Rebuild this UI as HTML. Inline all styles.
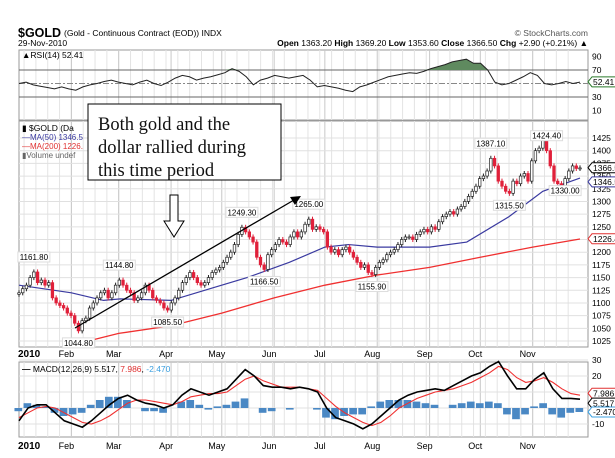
<!DOCTYPE html>
<html><head><meta charset="utf-8">
<style>
body{margin:0;background:#fff;width:615px;height:453px;overflow:hidden;font-family:"Liberation Sans",sans-serif}
svg text{font-family:"Liberation Sans",sans-serif}
</style></head>
<body>
<svg id="c" width="615" height="453" xmlns="http://www.w3.org/2000/svg">
<rect width="615" height="453" fill="#fff"/>
<text x="18" y="37" font-size="12.5" font-weight="bold">$GOLD</text>
<text x="64" y="36" font-size="8.5">(Gold - Continuous Contract (EOD)) INDX</text>
<text x="588" y="36" font-size="8.5" fill="#555" text-anchor="end">© StockCharts.com</text>
<text x="18" y="46" font-size="8.5">29-Nov-2010</text>
<text x="588" y="46" font-size="8.5" text-anchor="end"><tspan font-weight="bold">Open</tspan> 1363.20 <tspan font-weight="bold">High</tspan> 1369.20 <tspan font-weight="bold">Low</tspan> 1353.60 <tspan font-weight="bold">Close</tspan> 1366.50 <tspan font-weight="bold">Chg</tspan> +2.90 (+0.21%) ▲</text>
<g id="rsi"></g>
<g id="price"></g>
<g id="macd"></g>
<g>
<rect x="88" y="104" width="193" height="76" fill="#fff" stroke="#000" stroke-width="1"/>
<text x="98" y="130" font-size="18.5" fill="#111" style="font-family:'Liberation Serif',serif"><tspan x="98">Both gold and the</tspan><tspan x="98" dy="23">dollar rallied during</tspan><tspan x="98" dy="23">this time period</tspan></text>
<path d="M170,195 L178,195 L178,221 L184,221 L174,237 L164,221 L170,221 Z" fill="#fff" stroke="#000"/>
<line x1="75" y1="328" x2="294" y2="200" stroke="#000" stroke-width="1.3"/>
<path d="M301,196 L290,197 L295,205 Z" fill="#000"/>
</g>
</svg>
<script>
const closes=[1120,1128,1135,1150,1161,1140,1145,1135,1140,1110,1100,1095,1090,1080,1075,1060,1045,1065,1070,1090,1100,1110,1120,1125,1110,1120,1135,1145,1135,1125,1120,1105,1110,1120,1135,1125,1110,1105,1100,1090,1086,1100,1110,1125,1140,1150,1160,1150,1140,1135,1140,1150,1160,1165,1170,1180,1190,1200,1215,1235,1249,1240,1230,1220,1190,1175,1166,1195,1205,1215,1225,1220,1215,1230,1240,1230,1240,1255,1265,1245,1250,1245,1240,1210,1200,1205,1195,1205,1210,1200,1190,1180,1170,1175,1160,1156,1170,1180,1185,1195,1200,1205,1215,1225,1230,1230,1225,1235,1240,1245,1240,1250,1245,1260,1270,1275,1280,1275,1285,1290,1300,1310,1320,1330,1345,1350,1360,1385,1370,1340,1330,1320,1316,1340,1335,1350,1355,1340,1380,1400,1405,1424,1400,1370,1340,1335,1330,1345,1360,1370,1365,1366];
const ma50Days=[0,31,50,60,90,115,135,160,181,195,212,243,265,290,310,332];
const ma50Vals=[1135,1120,1105,1108,1105,1130,1150,1180,1210,1215,1210,1210,1220,1270,1320,1346];
const ma200Days=[35,59,90,120,151,181,212,243,273,304,332];
const ma200Vals=[1020,1040,1055,1080,1110,1135,1155,1170,1190,1210,1226];
const rsiVals=[50,52,48,46,44,42,45,42,40,45,48,50,53,55,52,50,48,52,55,50,47,52,58,62,60,55,58,60,63,66,72,68,60,48,55,58,62,60,58,60,62,55,45,47,45,43,40,38,45,48,52,56,60,62,64,66,65,68,72,75,78,82,84,86,80,80,70,52,48,50,55,60,66,62,50,48,50,53,50,52];
const macdVals=[-8,0,2,2,-3,-8,-10,-12,-8,-3,2,6,8,5,3,2,0,2,8,12,10,8,10,12,18,24,20,14,13,13,12,13,12,10,0,-6,-8,-10,-13,-10,-5,0,5,8,10,11,12,11,14,17,20,22,26,29,20,12,12,18,22,12,6,6,5.5];
const sigVals=[-6,-3,0,1,0,-3,-6,-9,-10,-8,-5,-1,3,5,5,4,3,2,4,7,8,9,9,10,14,18,20,17,15,13,13,13,12,11,6,1,-3,-6,-9,-11,-9,-5,0,3,6,8,10,11,12,14,16,19,22,26,24,19,16,17,19,16,12,9,8];
const histVals=[-2,3,2,1,-3,-5,-4,-3,2,5,7,7,5,0,-2,-2,-3,0,4,5,2,-1,1,2,4,6,0,-3,-2,0,-1,0,0,-1,-6,-7,-5,-4,-4,1,4,5,5,5,4,3,2,0,2,3,4,3,4,3,-4,-7,-4,1,3,-4,-6,-3,-2.5];
const priceTicks=[1425,1400,1375,1350,1325,1300,1275,1250,1225,1200,1175,1150,1125,1100,1075,1050,1025];
const rsiTicks=[90,70,30,10];
const macdTicks=[30,20,10,0,-10];
const monthNames=['Feb','Mar','Apr','May','Jun','Jul','Aug','Sep','Oct','Nov'];
const monthDays=[31,59,90,120,151,181,212,243,273,304];
const peakLabels=[['1161.80',4,-1],['1144.80',27,-1],['1085.50',40,1],['1044.80',16,1],['1249.30',60,-1],['1166.50',66,1],['1265.00',78,-1],['1155.90',95,1],['1387.10',127,-1],['1315.50',132,1],['1424.40',142,-1],['1330.00',147,1]];

const NS='http://www.w3.org/2000/svg';
const L=19,R=580,PR=588;
const xDay=d=>L+d*(R-L)/332;
const xIdx=(i,n)=>L+i*(R-L)/(n-1);
const yP=p=>138+(1425-p)*0.5075;
const yR=v=>70+(70-v)*0.675;
const yM=v=>408-v*1.6;
function mk(parent,tag,attrs){const e=document.createElementNS(NS,tag);for(const k in attrs)e.setAttribute(k,attrs[k]);document.getElementById(parent).appendChild(e);return e;}
function txt(parent,x,y,s,attrs){const e=mk(parent,'text',Object.assign({x:x,y:y,'font-size':9},attrs||{}));e.textContent=s;return e;}
function panel(id,top,bot){
  const r=mk(id,'rect',{x:L,y:top,width:PR-L,height:bot-top,fill:'#fff',stroke:'#999'});
  
  
  for(let d=3;d<332;d+=7){const l=mk(id,'line',{x1:xDay(d),x2:xDay(d),y1:top,y2:bot,stroke:'#e4e4e4'});
    
    }
  monthDays.forEach(d=>{const l=mk(id,'line',{x1:xDay(d),x2:xDay(d),y1:top,y2:bot,stroke:'#c8c8c8'});
    
    });
}
function poly(id,pts,color,w,name){const e=mk(id,'polyline',{points:pts.map(p=>p.join(',')).join(' '),fill:'none',stroke:color,'stroke-width':w});
  
  return e;}
function tag(id,y,s,color){const w=s.length*5+6;const p=mk(id,'path',{d:`M${PR} ${y} l4 -5 h${w} v10 h-${w} z`,fill:'#fff',stroke:color});
  
  
  const t=txt(id,PR+5,y+3.2,s,{'font-size':8.5,fill:'#000'});
  
  }

// RSI
panel('rsi',50,120);
[70,30].forEach(v=>{const l=mk('rsi','line',{x1:L,x2:PR,y1:yR(v),y2:yR(v),stroke:'#666'});
  
  });
{const l=mk('rsi','line',{x1:L,x2:PR,y1:yR(50),y2:yR(50),stroke:'#888','stroke-dasharray':'6,2,2,2'});
  
  }
rsiTicks.forEach(v=>{const t=txt('rsi',592,yR(v)+3,String(v),{'font-size':8.5});
  
  });
const rsiPts=rsiVals.map((v,i)=>[xIdx(i,rsiVals.length),yR(v)]);
{let d='';rsiPts.forEach((p,i)=>{const v=rsiVals[i];d+=(i?'L':'M')+p[0]+','+yR(Math.max(v,70));});
 d+='L'+rsiPts[rsiPts.length-1][0]+','+yR(70)+'L'+rsiPts[0][0]+','+yR(70)+'Z';
 const f=mk('rsi','path',{d:d,fill:'#5f8a5f'});
 
 }
poly('rsi',rsiPts,'#222',1,'rsi-line');
{const t=txt('rsi',22,58,'▲RSI(14) 52.41',{'font-size':8.5,'font-family':'Liberation Mono'});
 
 }
tag('rsi',yR(52.41),'52.41','#2a7a2a');

// Price
panel('price',121,347);
priceTicks.forEach(v=>{const l=mk('price','line',{x1:L,x2:PR,y1:yP(v),y2:yP(v),stroke:'#e0e0e0'});
  
  
  const t=txt('price',592,yP(v)+3,String(v),{'font-size':8.5});
  
  });
poly('price',ma200Days.map((d,i)=>[xDay(d),yP(ma200Vals[i])]),'#f03030',1.3,'ma200-line');
poly('price',ma50Days.map((d,i)=>[xDay(d),yP(ma50Vals[i])]),'#3a3aa0',1.2,'ma50-line');
closes.forEach((c,i)=>{
  const o=i?closes[i-1]:c-3, x=xIdx(i,closes.length);
  const hi=Math.max(o,c)+5, lo=Math.min(o,c)-5, col=c>=o?'#222':'#e0203a';
  const w=mk('price','line',{x1:x,x2:x,y1:yP(hi),y2:yP(lo),stroke:col});
  
  
  const b=mk('price','rect',{x:x-1.3,y:yP(Math.max(o,c)),width:2.6,height:Math.max(1,Math.abs(yP(o)-yP(c))),fill:c>=o?'#fff':'#e0203a',stroke:col,'stroke-width':0.7});
  
  
});
peakLabels.forEach(([s,i,dir])=>{
  const x=xIdx(i,closes.length), y=yP(closes[i])+(dir<0?-12:15);
  const r=mk('price','rect',{x:x-16,y:y-8,width:32,height:10,fill:'#fff',stroke:'#ddd'});
  
  
  const t=txt('price',x,y,s,{'font-size':8,'text-anchor':'middle'});
  
  });
{const t=txt('price',22,131,'▮ $GOLD (Da',{'font-size':8.5});
 const t2=txt('price',22,140,'—MA(50) 1346.5',{'font-size':8,fill:'#3a3aa0'});
 const t3=txt('price',22,149,'—MA(200) 1226.',{'font-size':8,fill:'#e03030'});
 const t4=txt('price',22,158,'▮Volume undef',{'font-size':8,fill:'#666'});}
tag('price',yP(1366.5),'1366.50','#000');
tag('price',yP(1346.53)+4,'1346.53','#3a3aa0');
tag('price',yP(1226.47),'1226.47','#e03030');
function monthLabels(id,y){
  const t=txt(id,18,y,'2010',{'font-size':10,'font-weight':'bold'});
  
  
  monthNames.forEach((m,i)=>{const e=txt(id,xDay(monthDays[i])-5,y,m,{'font-size':9,'text-anchor':'middle'});
    
    });
}
monthLabels('price',357);

// MACD
panel('macd',362,437);
macdTicks.forEach(v=>{const l=mk('macd','line',{x1:L,x2:PR,y1:yM(v),y2:yM(v),stroke:'#e0e0e0'});
  
  
  const t=txt('macd',592,yM(v)+3,String(v),{'font-size':8.5});
  
  });
const hw=(R-L)/(histVals.length-1);
histVals.forEach((v,i)=>{const x=xIdx(i,histVals.length);
  const b=mk('macd','rect',{x:x-hw/2,y:Math.min(yM(0),yM(v)),width:hw*0.85,height:Math.abs(yM(v)-yM(0)),fill:'#4a88c4'});
  
  });
poly('macd',sigVals.map((v,i)=>[xIdx(i,sigVals.length),yM(v)]),'#f03030',1.1,'macd-signal-line');
poly('macd',macdVals.map((v,i)=>[xIdx(i,macdVals.length),yM(v)]),'#000',1.6,'macd-line');
{const t=txt('macd',22,372,'',{'font-size':8.5,'font-family':'Liberation Mono'});
 t.innerHTML='<tspan font-weight="bold">—</tspan> MACD(12,26,9) 5.517, <tspan fill="#e03030">7.986</tspan>, <tspan fill="#3ca0e0">-2.470</tspan>';
 
 }
tag('macd',yM(7.986)-2,'7.986','#e03030');
tag('macd',yM(5.517)+4,'5.517','#000');
tag('macd',yM(-2.47),'-2.470','#3ca0e0');
monthLabels('macd',449);
</script>
</body></html>
